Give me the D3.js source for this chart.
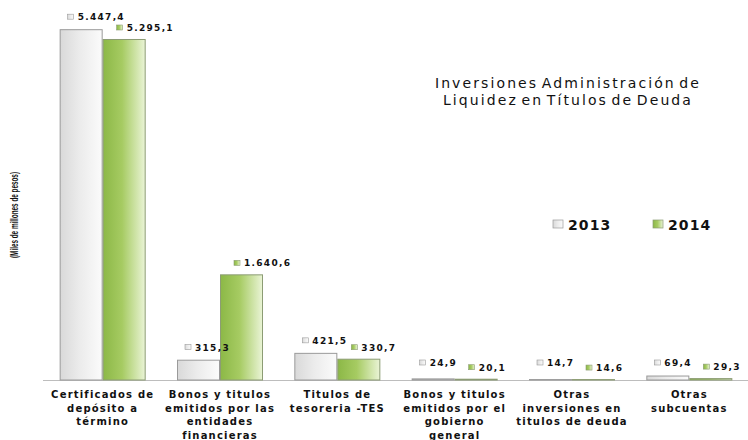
<!DOCTYPE html>
<html>
<head>
<meta charset="utf-8">
<script src="https://cdn.jsdelivr.net/npm/d3@7"></script>
<style>
  html, body { margin: 0; padding: 0; background: #fff; }
  svg { display: block; }
  .cat { font-family: "DejaVu Sans", Verdana, sans-serif; font-weight: bold; font-size: 10px; letter-spacing: 1.2px; fill: #111; }
  .val { font-family: "DejaVu Sans", Verdana, sans-serif; font-weight: bold; font-size: 9px; letter-spacing: 1.3px; fill: #111; }
  .title { font-family: "DejaVu Sans", sans-serif; font-size: 14px; letter-spacing: 2.1px; word-spacing: -3px; fill: #111; }
  .leg { font-family: "DejaVu Sans", Verdana, sans-serif; font-weight: bold; font-size: 14px; letter-spacing: 1.1px; fill: #111; }
  .ylab { font-family: "Liberation Sans", sans-serif; font-weight: bold; font-size: 10.5px; fill: #111; }
</style>
</head>
<body>
<svg width="748" height="440"></svg>
<script>
// categories (one array of lines per label)
var categories = [
  ["Certificados de", "depósito a", "término"],
  ["Bonos y titulos", "emitidos por las", "entidades", "financieras"],
  ["Titulos de", "tesoreria -TES"],
  ["Bonos y titulos", "emitidos por el", "gobierno", "general"],
  ["Otras", "inversiones en", "titulos de deuda"],
  ["Otras", "subcuentas"]
];
var years = ["2013", "2014"];
var values2013 = [5447.4, 315.3, 421.5, 24.9, 14.7, 69.4];
var values2014 = [5295.1, 1640.6, 330.7, 20.1, 14.6, 29.3];
var titleLines = ["Inversiones Administración de", "Liquidez en Títulos de Deuda"];
var yLabel = "(Miles de millones de pesos)";

(function() {
	var svg = d3.select("svg"),
		base = 380;

	var fmt = d3.formatLocale({decimal: ",", thousands: ".", grouping: [3], currency: ["$", ""]}).format(",.1f");

	var defs = svg.append("defs");
	function grad(id, stops) {
		var g = defs.append("linearGradient").attr("id", id)
			.attr("x1", "0%").attr("x2", "100%").attr("y1", "0%").attr("y2", "0%");
		stops.forEach(function(s) {
			g.append("stop").attr("offset", s[0]).attr("stop-color", s[1]);
		});
	}
	grad("g2013", [["0%", "#d9d9d9"], ["45%", "#ebebeb"], ["100%", "#fbfbfb"]]);
	grad("g2014", [["0%", "#8cb847"], ["45%", "#a6cb62"], ["100%", "#eaf4d6"]]);
	var fills = ["url(#g2013)", "url(#g2014)"],
		strokes = ["#9a9a9a", "#8c9c74"];

	var series = [values2013, values2014];

	var x = d3.scaleBand()
		.domain(d3.range(categories.length))
		.range([44, 748])
		.paddingInner(0.267)
		.paddingOuter(0.1335);

	var xs = d3.scaleBand()
		.domain([0, 1])
		.range([0, x.bandwidth()]);

	var y = d3.scaleLinear()
		.domain([0, 6000])
		.range([base, -6.4]);

	// baseline
	svg.append("line")
		.attr("x1", 43).attr("x2", 748)
		.attr("y1", base + 0.5).attr("y2", base + 0.5)
		.style("stroke", "#bdbdbd")
		.style("stroke-width", 1);

	var groups = svg.append("g").selectAll("g")
		.data(categories)
		.enter().append("g")
		.attr("transform", function(d, i) { return "translate(" + x(i) + ",0)"; });

	groups.selectAll("rect.bar")
		.data(function(d, i) { return series.map(function(s, k) { return {k: k, v: s[i]}; }); })
		.enter().append("rect")
		.attr("class", "bar")
		.attr("x", function(d) { return xs(d.k) + 0.5; })
		.attr("y", function(d) { return y(d.v) + 0.5; })
		.attr("width", xs.bandwidth() - 1)
		.attr("height", function(d) { return Math.max(0, base - y(d.v) - 0.5); })
		.style("fill", function(d) { return fills[d.k]; })
		.style("stroke", function(d) { return strokes[d.k]; })
		.style("stroke-width", 1);

	// value labels
	var lab = groups.selectAll("g.lab")
		.data(function(d, i) { return series.map(function(s, k) { return {k: k, v: s[i]}; }); })
		.enter().append("g")
		.attr("class", "lab")
		.attr("transform", function(d) {
			var top = y(d.v);
			var ly = d.k === 0 ? Math.min(top - 12, base - 17) : Math.min(top - 11, base - 9);
			var lx = xs(d.k) + (d.k === 0 ? 8 : 14);
			return "translate(" + lx + "," + ly + ")";
		});
	lab.append("rect")
		.attr("x", 0).attr("y", -3).attr("width", 6).attr("height", 5)
		.style("fill", function(d) { return fills[d.k]; })
		.style("stroke", function(d) { return strokes[d.k]; })
		.style("stroke-width", 0.6);
	lab.append("text")
		.attr("class", "val")
		.attr("x", 10).attr("y", 3)
		.text(function(d) { return fmt(d.v); });

	// category labels
	groups.append("text")
		.attr("class", "cat")
		.attr("text-anchor", "middle")
		.attr("transform", "translate(" + (x.bandwidth() / 2) + ",0)")
		.selectAll("tspan")
		.data(function(d) { return d; })
		.enter().append("tspan")
		.attr("x", 0)
		.attr("y", function(d, j) { return 398 + j * 13.5; })
		.text(function(d) { return d; });

	// title
	svg.append("text")
		.attr("class", "title")
		.attr("text-anchor", "middle")
		.selectAll("tspan")
		.data(titleLines)
		.enter().append("tspan")
		.attr("x", 568)
		.attr("y", function(d, j) { return 88 + j * 17; })
		.text(function(d) { return d; });

	// legend
	var leg = svg.append("g").selectAll("g")
		.data(years)
		.enter().append("g")
		.attr("transform", function(d, i) { return "translate(" + (553 + i * 100) + ",225)"; });
	leg.append("rect")
		.attr("x", 0).attr("y", -5).attr("width", 10).attr("height", 8)
		.style("fill", function(d, i) { return fills[i]; })
		.style("stroke", function(d, i) { return strokes[i]; })
		.style("stroke-width", 0.7);
	leg.append("text")
		.attr("class", "leg")
		.attr("x", 15).attr("y", 5)
		.text(function(d) { return d; });

	// y axis title
	svg.append("text")
		.attr("class", "ylab")
		.attr("text-anchor", "middle")
		.attr("textLength", 86)
		.attr("lengthAdjust", "spacingAndGlyphs")
		.attr("transform", "translate(18,215) rotate(-90)")
		.text(yLabel);
})();
</script>
</body>
</html>
